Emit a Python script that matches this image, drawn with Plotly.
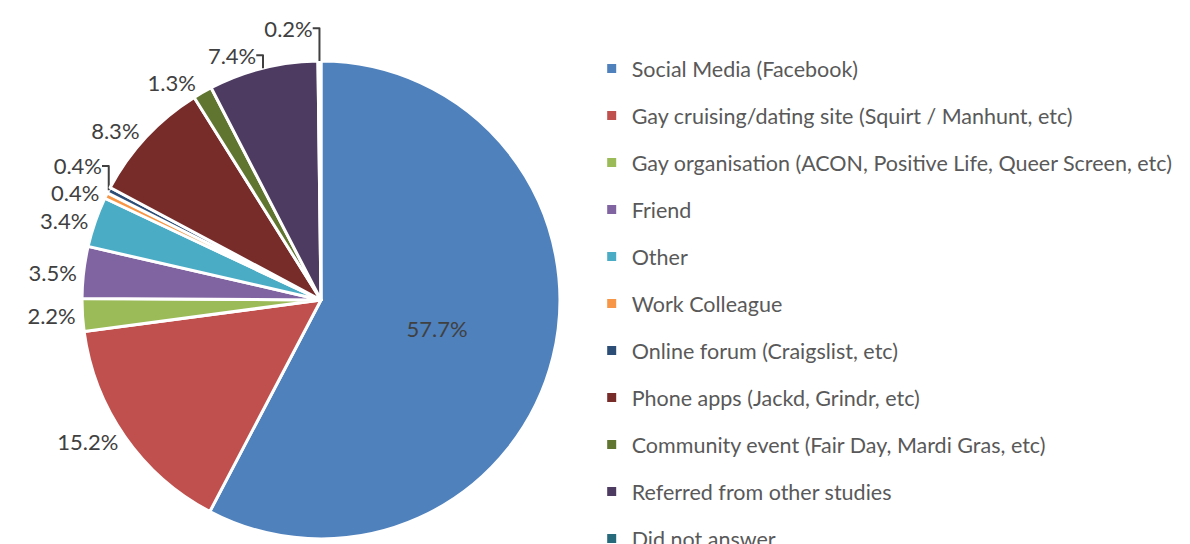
import plotly.graph_objects as go

categories = [
    "Social Media (Facebook)",
    "Gay cruising/dating site (Squirt / Manhunt, etc)",
    "Gay organisation (ACON, Positive Life, Queer Screen, etc)",
    "Friend",
    "Other",
    "Work Colleague",
    "Online forum (Craigslist, etc)",
    "Phone apps (Jackd, Grindr, etc)",
    "Community event (Fair Day, Mardi Gras, etc)",
    "Referred from other studies",
    "Did not answer",
]
percentages = [57.7, 15.2, 2.2, 3.5, 3.4, 0.4, 0.4, 8.3, 1.3, 7.4, 0.2]
colors = ["#4F81BD", "#C0504D", "#9BBB59", "#8064A2", "#4BACC6", "#F79646",
          "#2C4D75", "#772C2A", "#5F7530", "#4D3B62", "#276A7C"]

FONT = "Lato"

fig = go.Figure()
fig.add_trace(go.Pie(
    labels=categories,
    values=percentages,
    sort=False,
    direction="clockwise",
    rotation=0,
    marker=dict(colors=colors, line=dict(color="white", width=3)),
    texttemplate="%{value:.1f}%",
    textposition=["inside"] + ["outside"] * (len(categories) - 1),
    insidetextorientation="horizontal",
    textfont=dict(family=FONT, size=22, color="#404040"),
    insidetextfont=dict(family=FONT, size=22, color="#404040"),
    outsidetextfont=dict(family=FONT, size=22, color="#404040"),
    showlegend=False,
    domain=dict(x=[0.0622, 0.4638], y=[0.0215, 0.9050]),
    hole=0,
))

for i, (name, col) in enumerate(zip(categories, colors)):
    fig.add_trace(go.Scatter(
        x=[None], y=[None], mode="markers", name=name,
        legendgroup=f"g{i}",
        marker=dict(symbol="square", size=9, color=col),
        showlegend=True,
    ))

fig.update_layout(
    width=1190, height=544,
    margin=dict(l=0, r=0, t=0, b=0, autoexpand=False),
    paper_bgcolor="white", plot_bgcolor="white",
    xaxis=dict(visible=False), yaxis=dict(visible=False),
    legend=dict(
        x=0.4905, y=1 - 40 / 544, xanchor="left", yanchor="top",
        font=dict(family=FONT, size=21.5, color="#595959"),
        tracegroupgap=16.05, itemwidth=30, maxheight=2000,
        bgcolor="rgba(0,0,0,0)",
    ),
)

fig.write_html("out.html")
